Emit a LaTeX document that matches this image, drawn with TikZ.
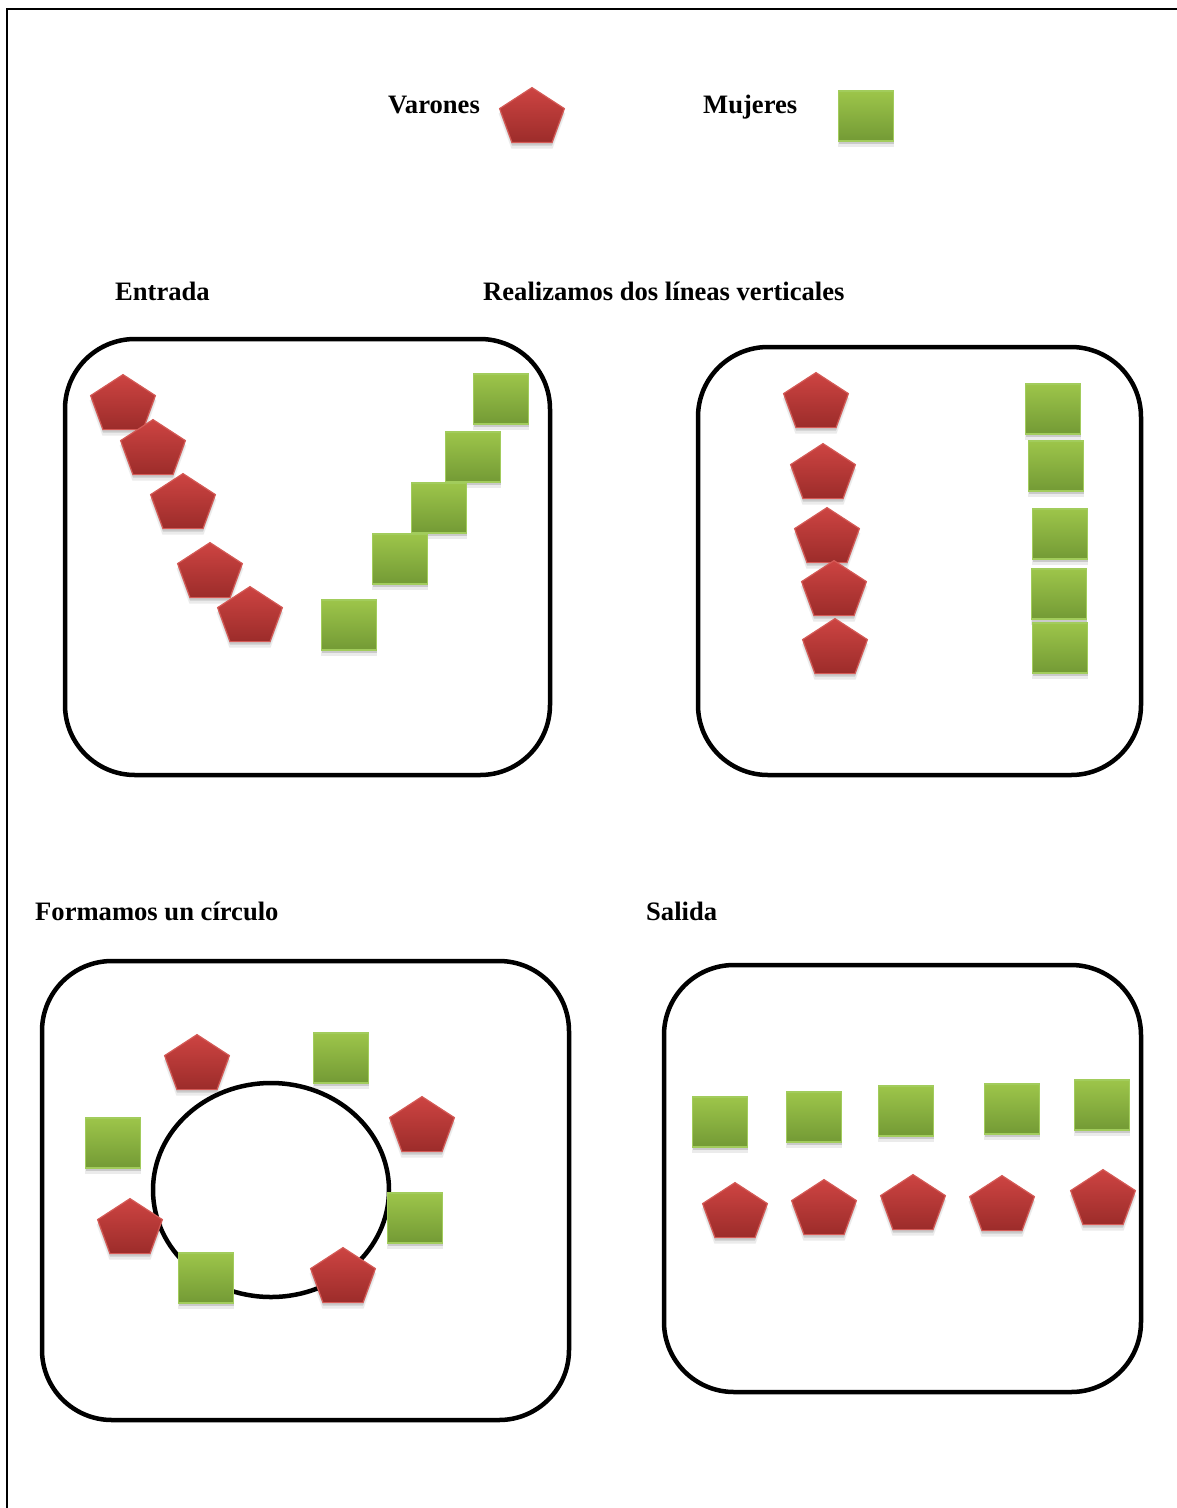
\documentclass[tikz,border=0pt]{standalone}
\usepackage{fontspec}
\setmainfont{Liberation Serif}
\usetikzlibrary{shapes.geometric,shadows}
\definecolor{pentTop}{HTML}{CD4442}
\definecolor{pentBot}{HTML}{9C2C2A}
\definecolor{pentEdge}{HTML}{D45A56}
\definecolor{sqTop}{HTML}{9DC54A}
\definecolor{sqBot}{HTML}{739A35}
\definecolor{sqEdge}{HTML}{A2CC5C}
\tikzset{
  lbl/.style={font=\fontsize{26.6}{30}\selectfont\bfseries, anchor=base west, inner sep=0pt},
  softshadow/.style={
    drop shadow={shadow xshift=0pt, shadow yshift=-5pt, shadow scale=1.03, opacity=0.08, fill=black},
    drop shadow={shadow xshift=0pt, shadow yshift=-3pt, opacity=0.14, fill=black}},
  pent/.style={regular polygon, regular polygon sides=5, minimum size=60.8pt, inner sep=0pt,
    xscale=1.12, transform shape, top color=pentTop, bottom color=pentBot, draw=pentEdge, line width=1.2pt,
    softshadow},
  sq/.style={rectangle, minimum width=55pt, minimum height=50pt, inner sep=0pt,
    top color=sqTop, bottom color=sqBot, draw=sqEdge, line width=1.2pt,
    softshadow},
  panel/.style={draw=black, line width=4.5pt, rounded corners=70pt},
  frame/.style={draw=black, line width=2.6pt}
}
\begin{document}
\begin{tikzpicture}[x=1pt, y=1pt]
\useasboundingbox (0,0) rectangle (1177,-1508);
% page frame
\draw[frame] (7,-1508) -- (7,-9) -- (1177,-9);

% legend
\node[lbl] (tVar) at (388,-113) {Varones};
\node[pent] (legP) at (532,-118) {};
\node[lbl] (tMuj) at (703,-113) {Mujeres};
\node[sq] (legS) at (866,-116) {};

% titles
\node[lbl] (tEnt) at (115,-300) {Entrada};
\node[lbl] (tRea) at (483,-300) {Realizamos dos líneas verticales};
\node[lbl] (tFor) at (35,-920) {Formamos un círculo};
\node[lbl] (tSal) at (646,-920) {Salida};

% panels
\draw[panel] (65,-339) rectangle (550,-775);
\draw[panel] (698,-347) rectangle (1141,-775);
\draw[panel] (42,-961) rectangle (569,-1420);
\draw[panel] (664,-965) rectangle (1141,-1392);

% Entrada
\node[pent] (e1) at (123,-405) {};
\node[pent] (e2) at (153,-450) {};
\node[pent] (e3) at (183,-504) {};
\node[pent] (e4) at (210,-573) {};
\node[pent] (e5) at (250,-617) {};
\node[sq] (f1) at (501,-399) {};
\node[sq] (f2) at (473,-457) {};
\node[sq] (f3) at (439,-508) {};
\node[sq] (f4) at (400,-559) {};
\node[sq] (f5) at (349,-625) {};

% two vertical lines
\node[pent] (r1) at (816,-403) {};
\node[pent] (r2) at (823,-474) {};
\node[pent] (r3) at (827,-538) {};
\node[pent] (r4) at (834,-591) {};
\node[pent] (r5) at (835,-649) {};
\node[sq] (g1) at (1053,-409) {};
\node[sq] (g2) at (1056,-466) {};
\node[sq] (g3) at (1060,-534) {};
\node[sq] (g4) at (1059,-594) {};
\node[sq] (g5) at (1060,-648) {};

% circle
\node[ellipse, draw=black, line width=4.5pt, minimum width=236pt, minimum height=214pt, inner sep=0pt] (ring) at (271,-1190) {};
\node[pent] (c1) at (197,-1065) {};
\node[pent] (c2) at (422,-1127) {};
\node[pent] (c3) at (130,-1229) {};
\node[pent] (c4) at (343,-1278) {};
\node[sq] (d1) at (341,-1058) {};
\node[sq] (d2) at (113,-1143) {};
\node[sq] (d3) at (415,-1218) {};
\node[sq] (d4) at (206,-1278) {};

% Salida
\node[sq] (h1) at (720,-1122) {};
\node[sq] (h2) at (814,-1117) {};
\node[sq] (h3) at (906,-1111) {};
\node[sq] (h4) at (1012,-1109) {};
\node[sq] (h5) at (1102,-1105) {};
\node[pent] (s1) at (735,-1213) {};
\node[pent] (s2) at (824,-1210) {};
\node[pent] (s3) at (913,-1205) {};
\node[pent] (s4) at (1002,-1206) {};
\node[pent] (s5) at (1103,-1200) {};
\end{tikzpicture}
\end{document}
